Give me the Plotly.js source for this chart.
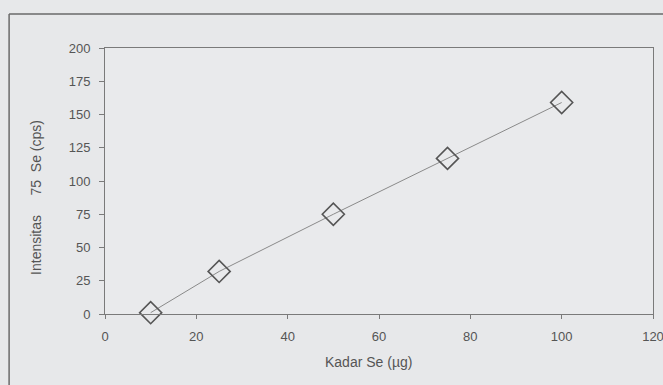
<!DOCTYPE html>
<html>
<head>
<meta charset="utf-8">
<script src="https://cdn.plot.ly/plotly-3.0.1.min.js"></script>
<style>html,body{margin:0;padding:0;background:#e7e8ea;}</style>
</head>
<body>
<div id="chart" style="width:663px;height:385px;"></div>
<script>
const kadarSe = [10, 25, 50, 75, 100];
const intensitas = [1, 32, 75, 117, 159];
const xTicks = [0, 20, 40, 60, 80, 100, 120];
const yTicks = [0, 25, 50, 75, 100, 125, 150, 175, 200];
const xTitle = 'Kadar Se (µg)';
const yTitle = 'Intensitas     75  Se (cps)';

const trace = {
  x: kadarSe,
  y: intensitas,
  type: 'scatter',
  mode: 'lines+markers',
  line: {color: '#8a8a8a', width: 1},
  marker: {symbol: 'diamond-open', size: 17, color: '#555555', line: {color: '#555555', width: 1.6}},
  cliponaxis: false,
  hoverinfo: 'none'
};

const layout = {
  width: 663, height: 385,
  margin: {l: 105, r: 10, t: 48, b: 71},
  paper_bgcolor: '#e7e8ea',
  plot_bgcolor: '#e9eaec',
  font: {family: 'Liberation Sans, Arial, sans-serif', size: 13, color: '#555555'},
  showlegend: false,
  xaxis: {
    range: [0, 120], tickvals: xTicks, ticktext: xTicks.map(String),
    showgrid: false, zeroline: false,
    showline: true, linecolor: '#7a7a7a', linewidth: 1, mirror: true,
    ticks: 'outside', ticklen: 4, tickcolor: '#7a7a7a',
    ticklabelstandoff: 6, ticklabeloverflow: 'allow',
    tickfont: {size: 13, color: '#555555'}
  },
  yaxis: {
    range: [0, 200], tickvals: yTicks, ticktext: yTicks.map(String),
    showgrid: false, zeroline: false,
    showline: true, linecolor: '#7a7a7a', linewidth: 1, mirror: true,
    ticks: 'outside', ticklen: 5, tickcolor: '#7a7a7a',
    ticklabelstandoff: 6,
    tickfont: {size: 13, color: '#555555'}
  },
  annotations: [
    {text: xTitle, xref: 'paper', yref: 'paper', x: -0.015, y: -0.18, xanchor: 'center', yanchor: 'middle', showarrow: false, font: {size: 14, color: '#555555'}},
    {text: yTitle, xref: 'paper', yref: 'paper', x: -0.126, y: 0.44, xanchor: 'center', yanchor: 'middle', textangle: -90, showarrow: false, font: {size: 14, color: '#555555'}}
  ],
  shapes: [
    {type: 'line', xref: 'paper', yref: 'paper', x0: -0.175, x1: 1.02, y0: 1.128, y1: 1.128, line: {color: '#6a6a6a', width: 1.5}},
    {type: 'line', xref: 'paper', yref: 'paper', x0: -0.175, x1: -0.175, y0: 1.128, y1: -0.27, line: {color: '#6a6a6a', width: 1.5}}
  ]
};
layout.annotations[0].x = 0.48;

Plotly.newPlot('chart', [trace], layout, {displayModeBar: false, staticPlot: true});
</script>
</body>
</html>
